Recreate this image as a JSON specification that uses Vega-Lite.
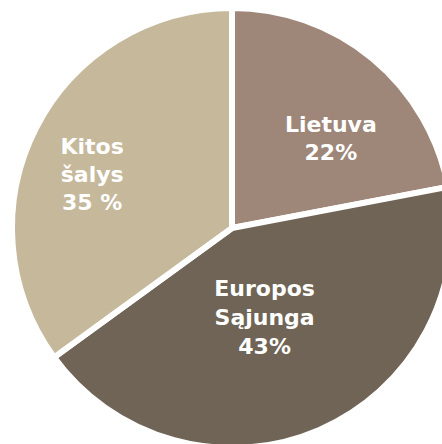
{
  "$schema": "https://vega.github.io/schema/vega-lite/v6.json",
  "width": 464,
  "height": 456,
  "autosize": "none",
  "padding": 0,
  "background": "white",
  "config": {"view": {"stroke": null}},
  "data": {"values": [
    {"cat": "Lietuva", "value": 22, "order": 1, "label": ["Lietuva", "22%"]},
    {"cat": "Europos Sąjunga", "value": 43, "order": 2, "label": ["Europos", "Sąjunga", "43%"]},
    {"cat": "Kitos šalys", "value": 35, "order": 3, "label": ["Kitos", "šalys", "35 %"]}
  ]},
  "encoding": {
    "theta": {"field": "value", "type": "quantitative", "stack": true},
    "order": {"field": "order", "type": "ordinal"}
  },
  "layer": [
    {
      "mark": {"type": "arc", "outerRadius": 220, "stroke": "white", "strokeWidth": 6},
      "encoding": {
        "color": {"field": "cat", "type": "nominal", "legend": null,
          "scale": {"domain": ["Lietuva", "Europos Sąjunga", "Kitos šalys"], "range": ["#9e8779", "#6f6455", "#c5b89b"]}}
      }
    },
    {
      "mark": {"type": "text", "radius": 130, "dx": 16, "dy": -3, "font": "DejaVu Sans", "fontWeight": "bold", "fontSize": 22, "lineHeight": 28, "color": "white", "align": "center", "baseline": "middle"},
      "encoding": {"text": {"condition": {"test": "datum.cat == 'Lietuva'", "field": "label"}, "value": ""}}
    },
    {
      "mark": {"type": "text", "radius": 130, "dx": -19, "dy": -58, "font": "DejaVu Sans", "fontWeight": "bold", "fontSize": 22, "lineHeight": 29, "color": "white", "align": "center", "baseline": "middle"},
      "encoding": {"text": {"condition": {"test": "datum.cat == 'Europos Sąjunga'", "field": "label"}, "value": ""}}
    },
    {
      "mark": {"type": "text", "radius": 130, "dx": -24, "dy": -22, "font": "DejaVu Sans", "fontWeight": "bold", "fontSize": 22, "lineHeight": 28, "color": "white", "align": "center", "baseline": "middle"},
      "encoding": {"text": {"condition": {"test": "datum.cat == 'Kitos šalys'", "field": "label"}, "value": ""}}
    }
  ]
}
